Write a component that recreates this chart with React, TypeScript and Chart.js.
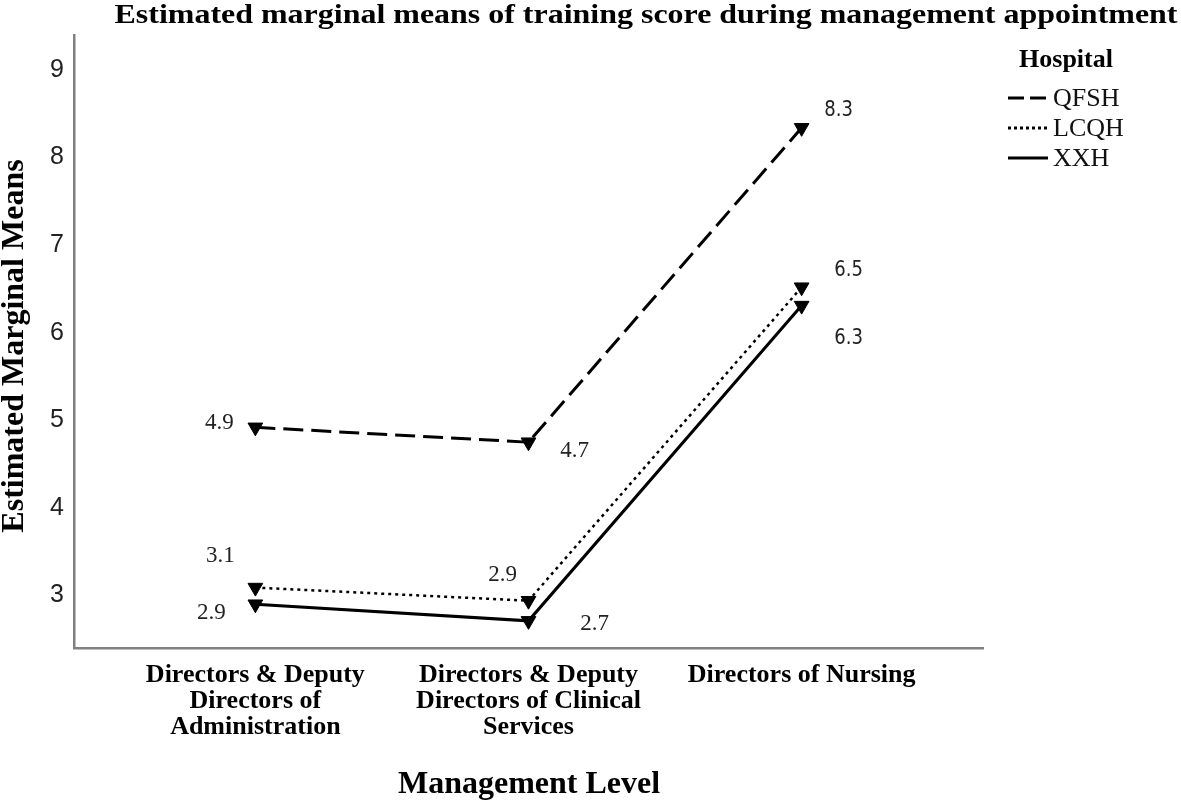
import React, { useEffect, useRef } from "react";
import { Chart, registerables } from "chart.js";

Chart.register(...registerables);

const chartTitle = "Estimated marginal means of training score during management appointment";
const yAxisTitle = "Estimated Marginal Means";
const xAxisTitle = "Management Level";
const legendTitle = "Hospital";

const categories: string[][] = [
  ["Directors & Deputy", "Directors of", "Administration"],
  ["Directors & Deputy", "Directors of Clinical", "Services"],
  ["Directors of Nursing"],
];
const hospitals = ["QFSH", "LCQH", "XXH"];
const qfshValues = [4.92, 4.75, 8.34];
const lcqhValues = [3.09, 2.94, 6.52];
const xxhValues = [2.9, 2.71, 6.31];
const qfshLabels = ["4.9", "4.7", "8.3"];
const lcqhLabels = ["3.1", "2.9", "6.5"];
const xxhLabels = ["2.9", "2.7", "6.3"];
const yTicks = [3, 4, 5, 6, 7, 8, 9];

const seriesValues = [qfshValues, lcqhValues, xxhValues];
const seriesLabels = [qfshLabels, lcqhLabels, xxhLabels];

// styling (not data)
const dashes = [[20, 8], [3, 4], []];
const widths = [3, 2.5, 3];
const legendDashes = [[16, 6], [3, 3], []];
const labelOffsets = [
  [[-36, -4], [46, 9], [37, -18]],
  [[-35, -32], [-26, -26], [47, -17]],
  [[-44, 9], [66, 3], [47, 33]],
];

const overlay = {
  id: "overlay",
  afterDraw(chart: any) {
    const ctx = chart.ctx as CanvasRenderingContext2D;
    ctx.save();
    ctx.fillStyle = "#000";
    ctx.strokeStyle = "#000";
    ctx.textAlign = "center";
    ctx.textBaseline = "alphabetic";

    // title, stretched to the reference's span
    ctx.font = 'bold 28px "Liberation Serif", serif';
    const tw = ctx.measureText(chartTitle).width;
    const sx = 1063 / tw;
    ctx.save();
    ctx.translate(646, 23);
    ctx.scale(sx, 1);
    ctx.fillText(chartTitle, 0, 0);
    ctx.restore();

    // y axis title
    ctx.save();
    ctx.translate(23, 346);
    ctx.rotate(-Math.PI / 2);
    ctx.font = 'bold 32px "Liberation Serif", serif';
    ctx.fillText(yAxisTitle, 0, 0);
    ctx.restore();

    // x axis title
    ctx.font = 'bold 32px "Liberation Serif", serif';
    ctx.fillText(xAxisTitle, 529, 793);

    // legend
    ctx.font = 'bold 26px "Liberation Serif", serif';
    ctx.fillText(legendTitle, 1066, 67);
    hospitals.forEach((h, i) => {
      const y = 98 + i * 30;
      ctx.save();
      ctx.lineWidth = 3;
      ctx.setLineDash(legendDashes[i]);
      ctx.beginPath();
      ctx.moveTo(1008, y);
      ctx.lineTo(1048, y);
      ctx.stroke();
      ctx.restore();
      ctx.textAlign = "left";
      ctx.textBaseline = "middle";
      ctx.font = '26px "Liberation Serif", serif';
      ctx.fillStyle = "#111";
      ctx.fillText(h, 1053, y + 1);
    });

    // data labels
    ctx.textAlign = "center";
    ctx.textBaseline = "middle";
    chart.data.datasets.forEach((_ds: any, di: number) => {
      const meta = chart.getDatasetMeta(di);
      meta.data.forEach((pt: any, i: number) => {
        const [dx, dy] = labelOffsets[di][i];
        const text = seriesLabels[di][i];
        ctx.save();
        ctx.translate(pt.x + dx, pt.y + dy);
        if (i === 2) {
          ctx.scale(0.82, 1);
          ctx.font = '22px "DejaVu Sans", sans-serif';
        } else {
          ctx.font = '23px "Liberation Serif", serif';
        }
        ctx.fillStyle = "#222";
        ctx.fillText(text, 0, 0);
        ctx.restore();
      });
    });
    ctx.restore();
  },
};

export default function App() {
  const ref = useRef<HTMLCanvasElement | null>(null);
  useEffect(() => {
    document.body.style.margin = "0";
    const canvas = ref.current;
    if (!canvas) return;
    const chart = new Chart(canvas, {
      type: "line",
      data: {
        datasets: hospitals.map((h, di) => ({
          label: h,
          data: seriesValues[di].map((v, i) => ({ x: i, y: v })),
          borderColor: "#000",
          backgroundColor: "#000",
          borderWidth: widths[di],
          borderDash: dashes[di],
          pointStyle: "triangle",
          pointRotation: 180,
          pointRadius: 8.5,
          pointHoverRadius: 8.5,
          pointBackgroundColor: "#000",
          pointBorderColor: "#000",
          pointBorderWidth: 1,
          tension: 0,
          fill: false,
        })),
      },
      options: {
        animation: false,
        responsive: false,
        maintainAspectRatio: false,
        events: [],
        layout: { padding: { left: 0, top: 35, right: 198, bottom: 0 } },
        plugins: {
          legend: { display: false },
          title: { display: false },
          tooltip: { enabled: false },
        },
        scales: {
          x: {
            type: "linear",
            min: -0.664,
            max: 2.664,
            grid: { display: false, drawTicks: false },
            border: { display: true, color: "#808080", width: 2.5 },
            afterBuildTicks: (scale: any) => {
              scale.ticks = categories.map((_c, i) => ({ value: i }));
            },
            afterFit: (scale: any) => {
              scale.height = 154;
            },
            ticks: {
              autoSkip: false,
              maxRotation: 0,
              minRotation: 0,
              padding: 14,
              color: "#000",
              font: { family: '"Liberation Serif", serif', size: 26, weight: "bold", lineHeight: 1.0 },
              callback: (value: any) => categories[Number(value)] ?? "",
            },
          },
          y: {
            type: "linear",
            min: 2.4,
            max: 9.4,
            grid: { display: false, drawTicks: false },
            border: { display: true, color: "#808080", width: 2.5 },
            afterBuildTicks: (scale: any) => {
              scale.ticks = yTicks.map((v) => ({ value: v }));
            },
            afterFit: (scale: any) => {
              scale.width = 74;
            },
            ticks: {
              padding: 10,
              color: "#222",
              font: { family: '"Liberation Sans", sans-serif', size: 25, weight: "normal" },
              callback: (value: any) => String(value),
            },
          },
        },
      },
      plugins: [overlay],
    });
    return () => chart.destroy();
  }, []);
  return (
    <div style={{ position: "absolute", left: 0, top: 0, width: 1181, height: 802, background: "#fff" }}>
      <canvas ref={ref} width={1181} height={802} style={{ width: 1181, height: 802, display: "block" }} />
    </div>
  );
}
